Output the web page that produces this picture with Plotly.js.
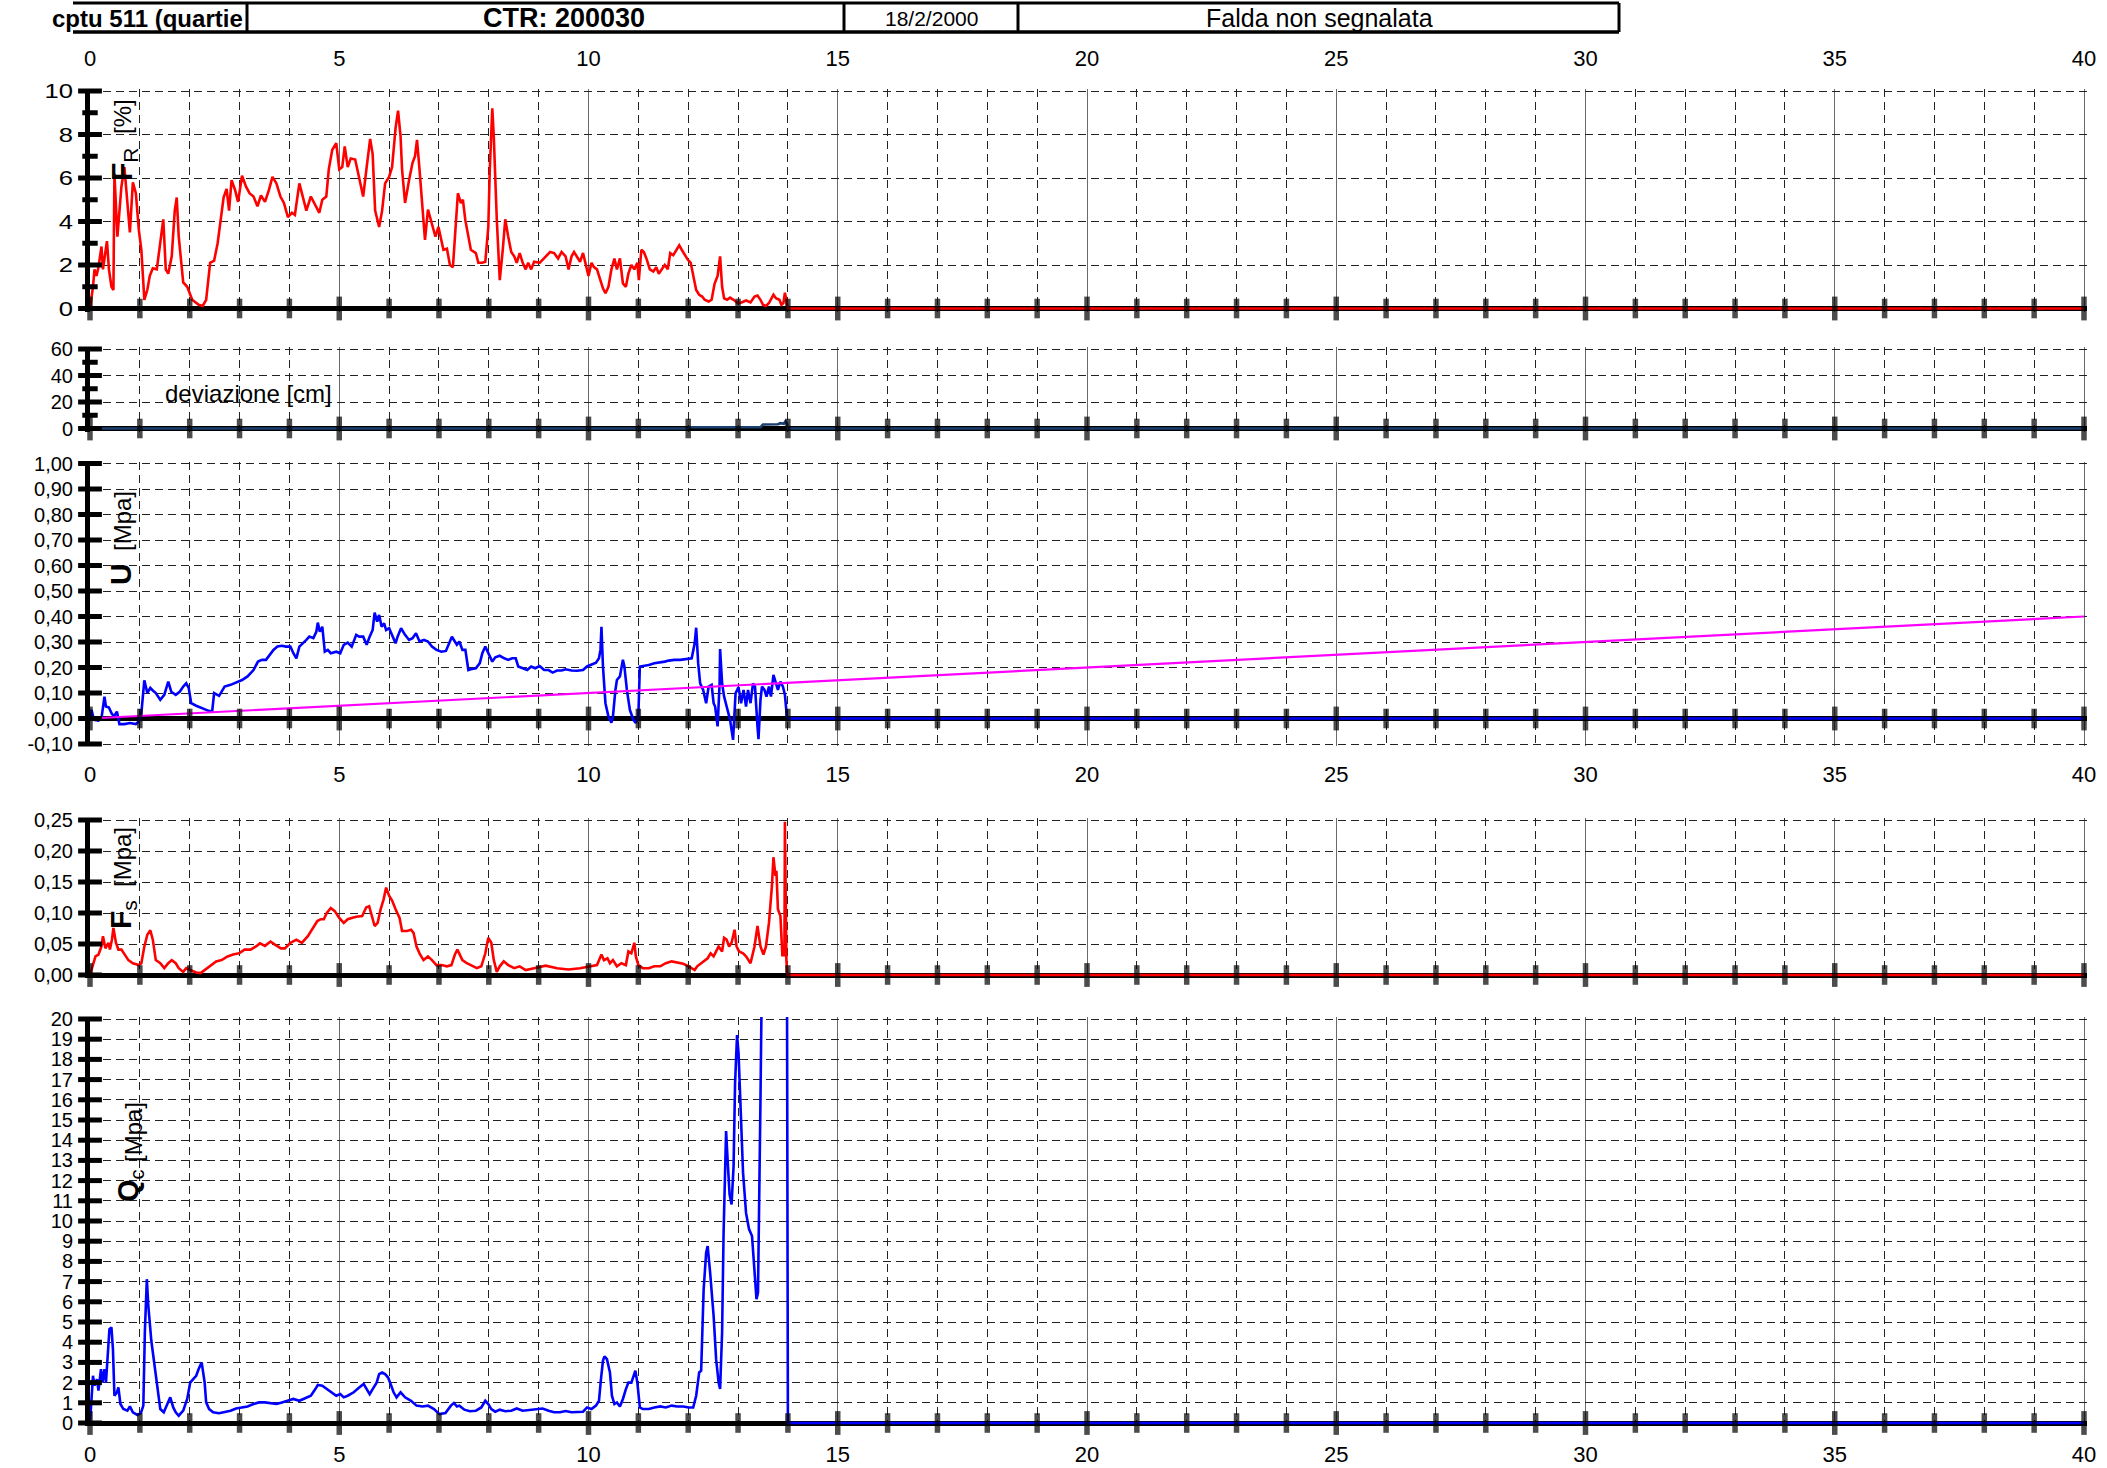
<!DOCTYPE html>
<html><head><meta charset="utf-8">
<script src="https://cdn.plot.ly/plotly-3.0.1.min.js"></script>
<style>html,body{margin:0;padding:0;background:#fff}#chart{width:2107px;height:1468px}</style>
</head><body><div id="chart"></div>
<script>
// ---------------- DATA ----------------
const headerTexts = ["cptu 511 (quartie", "CTR: 200030", "18/2/2000", "Falda non segnalata"];
const xTickVals = [0,5,10,15,20,25,30,35,40];
const xTickText = ["0","5","10","15","20","25","30","35","40"];

const frTickVals = [0,2,4,6,8,10];
const frTickText = ["0","2","4","6","8","10"];
const frMinor = [1,3,5,7,9];
const devTickVals = [0,20,40,60];
const devTickText = ["0","20","40","60"];
const devMinor = [10,30,50];
const uTickVals = [-0.1,0,0.1,0.2,0.3,0.4,0.5,0.6,0.7,0.8,0.9,1.0];
const uTickText = ["-0,10","0,00","0,10","0,20","0,30","0,40","0,50","0,60","0,70","0,80","0,90","1,00"];
const fsTickVals = [0,0.05,0.1,0.15,0.2,0.25];
const fsTickText = ["0,00","0,05","0,10","0,15","0,20","0,25"];
const qcTickVals = [0,1,2,3,4,5,6,7,8,9,10,11,12,13,14,15,16,17,18,19,20];
const qcTickText = qcTickVals.map(String);

// F_R [%] vs depth [m]
const frData = [[0,0],[0.06,1.0],[0.09,1.8],[0.13,1.5],[0.17,1.9],[0.23,2.85],[0.26,1.8],[0.31,2.7],[0.34,3.1],[0.38,1.8],[0.43,1.0],[0.47,0.85],[0.49,6.2],[0.55,3.3],[0.63,5.6],[0.69,6.5],[0.75,4.8],[0.8,3.5],[0.86,5.8],[0.92,5.3],[0.98,3.6],[1.03,2.7],[1.09,0.4],[1.15,0.86],[1.2,1.5],[1.26,1.85],[1.34,1.8],[1.41,3.0],[1.47,4.1],[1.52,1.8],[1.57,1.6],[1.64,2.4],[1.7,4.5],[1.74,5.1],[1.78,3.3],[1.87,1.2],[1.95,1.0],[2.05,0.4],[2.18,0.17],[2.26,0.12],[2.33,0.4],[2.41,2.1],[2.49,2.2],[2.56,3.0],[2.62,4.2],[2.68,5.1],[2.74,5.5],[2.79,4.5],[2.84,5.9],[2.91,5.45],[2.97,4.9],[3.05,6.1],[3.13,5.6],[3.2,5.3],[3.28,5.15],[3.36,4.7],[3.43,5.2],[3.51,4.9],[3.59,5.45],[3.66,6.05],[3.74,5.75],[3.82,5.15],[3.89,4.85],[3.97,4.2],[4.05,4.4],[4.11,4.3],[4.2,5.75],[4.28,5.0],[4.34,4.5],[4.43,5.15],[4.5,4.85],[4.6,4.4],[4.66,5.0],[4.74,5.15],[4.79,6.4],[4.86,7.3],[4.94,7.6],[5.0,6.4],[5.06,6.5],[5.11,7.45],[5.17,6.5],[5.23,6.9],[5.32,6.85],[5.4,6.05],[5.48,5.15],[5.55,6.5],[5.62,7.8],[5.67,7.1],[5.72,4.5],[5.8,3.75],[5.86,4.5],[5.92,5.75],[6.0,6.05],[6.06,6.5],[6.13,8.3],[6.18,9.1],[6.23,7.9],[6.26,6.4],[6.32,4.85],[6.4,5.9],[6.47,6.7],[6.52,7.0],[6.56,7.75],[6.61,6.4],[6.67,4.5],[6.72,3.15],[6.78,4.55],[6.86,3.9],[6.93,3.3],[6.99,3.75],[7.05,3.15],[7.09,2.7],[7.16,2.75],[7.22,2.0],[7.28,1.9],[7.33,3.6],[7.38,5.3],[7.44,4.85],[7.48,5.0],[7.53,4.05],[7.59,3.3],[7.64,2.7],[7.74,2.55],[7.79,2.1],[7.87,2.1],[7.93,2.15],[7.99,3.75],[8.02,6.4],[8.07,9.2],[8.1,7.9],[8.16,4.1],[8.22,1.3],[8.28,2.7],[8.33,4.1],[8.39,3.3],[8.45,2.6],[8.51,2.4],[8.56,2.1],[8.62,2.55],[8.68,2.1],[8.74,1.8],[8.79,2.1],[8.85,1.8],[8.91,2.15],[9.02,2.1],[9.14,2.4],[9.23,2.6],[9.31,2.55],[9.39,2.3],[9.46,2.6],[9.54,2.4],[9.6,1.8],[9.66,2.4],[9.71,2.6],[9.77,2.4],[9.83,2.15],[9.89,2.55],[9.94,2.1],[10.0,1.5],[10.06,2.1],[10.11,1.9],[10.17,1.8],[10.23,1.3],[10.29,0.93],[10.34,0.7],[10.4,1.0],[10.46,1.8],[10.52,2.3],[10.57,1.8],[10.63,2.3],[10.69,1.15],[10.75,1.0],[10.8,1.6],[10.86,2.0],[10.92,1.8],[10.98,2.1],[11.01,1.3],[11.06,2.7],[11.11,2.6],[11.17,2.25],[11.23,1.8],[11.3,1.7],[11.36,1.9],[11.41,1.6],[11.47,1.8],[11.53,2.0],[11.59,1.8],[11.64,2.55],[11.7,2.45],[11.76,2.7],[11.82,2.9],[11.87,2.7],[11.93,2.45],[11.99,2.25],[12.05,2.1],[12.1,1.5],[12.16,0.85],[12.22,0.63],[12.28,0.55],[12.33,0.4],[12.41,0.32],[12.47,0.4],[12.53,1.15],[12.59,1.5],[12.64,2.4],[12.68,1.0],[12.72,0.47],[12.78,0.4],[12.84,0.5],[12.91,0.4],[12.99,0.25],[13.07,0.28],[13.16,0.37],[13.25,0.28],[13.33,0.55],[13.39,0.6],[13.45,0.4],[13.5,0.17],[13.56,0.12],[13.62,0.25],[13.71,0.63],[13.76,0.47],[13.83,0.4],[13.87,0.17],[13.91,0.25],[13.94,0.73],[13.97,0.25],[14.0,0],[40,0]];

// deviazione [cm]
const devData = [[0,0],[12.0,0],[12.02,1.0],[13.45,1.0],[13.5,3.0],[13.8,3.2],[13.85,4.0],[13.92,3.6],[13.95,5.5],[13.98,4.0],[14.0,0],[40,0]];

// U [MPa]
const uData = [[0,0],[0.03,0.034],[0.08,-0.005],[0.17,-0.008],[0.23,0.001],[0.29,0.086],[0.32,0.047],[0.38,0.043],[0.43,0.021],[0.48,0.008],[0.54,0.027],[0.59,-0.022],[0.69,-0.022],[0.8,-0.018],[0.92,-0.022],[0.98,-0.012],[1.03,0.021],[1.09,0.15],[1.15,0.1],[1.21,0.12],[1.26,0.11],[1.32,0.1],[1.41,0.073],[1.49,0.093],[1.57,0.145],[1.63,0.105],[1.72,0.093],[1.8,0.105],[1.87,0.125],[1.93,0.138],[1.98,0.12],[2.03,0.06],[2.13,0.05],[2.24,0.04],[2.32,0.034],[2.38,0.03],[2.45,0.027],[2.49,0.1],[2.59,0.089],[2.7,0.125],[2.82,0.132],[2.93,0.141],[3.05,0.151],[3.16,0.165],[3.28,0.19],[3.37,0.223],[3.45,0.23],[3.53,0.23],[3.6,0.249],[3.68,0.269],[3.76,0.282],[3.85,0.285],[3.93,0.282],[4.02,0.282],[4.08,0.256],[4.14,0.236],[4.2,0.282],[4.28,0.295],[4.34,0.308],[4.4,0.321],[4.48,0.315],[4.54,0.34],[4.57,0.376],[4.61,0.34],[4.66,0.36],[4.71,0.262],[4.77,0.269],[4.83,0.256],[4.94,0.262],[5.02,0.256],[5.09,0.289],[5.17,0.298],[5.25,0.282],[5.34,0.328],[5.4,0.321],[5.48,0.321],[5.55,0.289],[5.61,0.321],[5.67,0.347],[5.71,0.415],[5.76,0.38],[5.8,0.406],[5.85,0.36],[5.9,0.373],[5.94,0.347],[6.0,0.354],[6.06,0.328],[6.13,0.295],[6.17,0.321],[6.24,0.354],[6.32,0.328],[6.4,0.308],[6.47,0.315],[6.54,0.334],[6.61,0.302],[6.7,0.308],[6.78,0.302],[6.86,0.282],[6.95,0.269],[7.05,0.262],[7.14,0.265],[7.21,0.295],[7.26,0.321],[7.3,0.308],[7.36,0.289],[7.41,0.302],[7.47,0.269],[7.53,0.269],[7.59,0.19],[7.64,0.193],[7.74,0.197],[7.82,0.217],[7.87,0.256],[7.93,0.282],[7.99,0.256],[8.07,0.223],[8.13,0.24],[8.22,0.246],[8.31,0.236],[8.39,0.23],[8.47,0.236],[8.54,0.236],[8.59,0.204],[8.68,0.197],[8.77,0.19],[8.85,0.204],[8.93,0.197],[9.02,0.206],[9.11,0.19],[9.2,0.19],[9.28,0.18],[9.37,0.188],[9.46,0.188],[9.54,0.193],[9.66,0.188],[9.77,0.187],[9.89,0.19],[9.97,0.204],[10.06,0.21],[10.15,0.219],[10.21,0.236],[10.24,0.269],[10.26,0.36],[10.29,0.204],[10.34,0.06],[10.4,0.008],[10.46,-0.016],[10.49,0.008],[10.54,0.112],[10.57,0.151],[10.63,0.165],[10.69,0.23],[10.72,0.204],[10.77,0.112],[10.83,0.034],[10.9,-0.005],[10.95,-0.018],[11.0,0.008],[11.03,0.204],[11.09,0.206],[11.21,0.21],[11.32,0.217],[11.44,0.219],[11.53,0.223],[11.61,0.227],[11.72,0.23],[11.84,0.23],[11.95,0.232],[12.07,0.236],[12.13,0.295],[12.16,0.356],[12.2,0.217],[12.24,0.138],[12.3,0.112],[12.36,0.06],[12.41,0.125],[12.47,0.132],[12.51,0.06],[12.54,0.047],[12.59,-0.031],[12.63,0.138],[12.64,0.272],[12.68,0.138],[12.72,0.086],[12.79,0.034],[12.84,-0.005],[12.9,-0.084],[12.95,0.099],[13.01,0.123],[13.06,0.06],[13.11,0.112],[13.16,0.047],[13.2,0.112],[13.25,0.06],[13.3,0.138],[13.34,0.125],[13.39,-0.031],[13.41,-0.081],[13.45,0.073],[13.48,0.125],[13.53,0.112],[13.57,0.086],[13.62,0.125],[13.66,0.086],[13.71,0.171],[13.76,0.138],[13.8,0.112],[13.85,0.145],[13.9,0.125],[13.94,0.093],[13.98,0.008],[14.01,0],[40,0]];

// hydrostatic pressure line [MPa]
const uHydroData = [[0,0],[40,0.40]];

// F_s [MPa]
const fsData = [[0,0],[0.06,0.019],[0.11,0.03],[0.17,0.033],[0.23,0.046],[0.26,0.0625],[0.31,0.043],[0.37,0.052],[0.4,0.041],[0.44,0.057],[0.47,0.076],[0.52,0.052],[0.57,0.041],[0.63,0.041],[0.69,0.033],[0.77,0.024],[0.86,0.019],[0.98,0.016],[1.03,0.019],[1.09,0.046],[1.15,0.065],[1.21,0.072],[1.26,0.057],[1.32,0.024],[1.41,0.019],[1.49,0.011],[1.57,0.019],[1.64,0.024],[1.72,0.019],[1.78,0.011],[1.87,0.005],[1.93,0.011],[2.01,0.008],[2.13,0.004],[2.22,0.003],[2.3,0.008],[2.41,0.014],[2.53,0.022],[2.64,0.024],[2.76,0.03],[2.87,0.033],[2.99,0.035],[3.1,0.041],[3.22,0.041],[3.33,0.046],[3.41,0.051],[3.51,0.047],[3.62,0.054],[3.71,0.049],[3.83,0.043],[3.91,0.043],[4.02,0.052],[4.14,0.057],[4.25,0.052],[4.37,0.0625],[4.48,0.076],[4.56,0.087],[4.63,0.09],[4.69,0.09],[4.75,0.1],[4.83,0.108],[4.91,0.103],[5.0,0.092],[5.09,0.084],[5.17,0.09],[5.25,0.092],[5.34,0.094],[5.46,0.095],[5.54,0.109],[5.6,0.111],[5.66,0.095],[5.71,0.079],[5.77,0.084],[5.83,0.106],[5.89,0.122],[5.94,0.141],[6.0,0.128],[6.06,0.12],[6.13,0.106],[6.21,0.092],[6.26,0.071],[6.36,0.071],[6.44,0.073],[6.49,0.068],[6.55,0.046],[6.61,0.035],[6.69,0.024],[6.78,0.03],[6.86,0.024],[6.95,0.016],[7.05,0.016],[7.16,0.014],[7.25,0.016],[7.32,0.033],[7.37,0.041],[7.41,0.035],[7.47,0.024],[7.56,0.019],[7.64,0.016],[7.76,0.011],[7.85,0.014],[7.93,0.035],[7.99,0.06],[8.05,0.052],[8.1,0.024],[8.16,0.005],[8.22,0.014],[8.3,0.022],[8.39,0.016],[8.51,0.011],[8.62,0.014],[8.74,0.008],[8.91,0.011],[9.14,0.015],[9.37,0.011],[9.6,0.009],[9.83,0.011],[10.06,0.014],[10.17,0.016],[10.26,0.033],[10.31,0.024],[10.38,0.027],[10.43,0.019],[10.49,0.024],[10.57,0.014],[10.66,0.019],[10.75,0.016],[10.8,0.038],[10.86,0.035],[10.92,0.052],[10.95,0.03],[11.0,0.016],[11.09,0.011],[11.21,0.011],[11.32,0.014],[11.44,0.014],[11.55,0.019],[11.67,0.022],[11.78,0.02],[11.9,0.018],[12.01,0.014],[12.13,0.008],[12.18,0.014],[12.26,0.019],[12.33,0.024],[12.39,0.027],[12.45,0.035],[12.51,0.03],[12.56,0.038],[12.61,0.046],[12.68,0.038],[12.72,0.06],[12.77,0.057],[12.82,0.046],[12.87,0.052],[12.93,0.073],[12.97,0.046],[13.02,0.038],[13.1,0.035],[13.16,0.03],[13.25,0.019],[13.33,0.046],[13.39,0.079],[13.45,0.046],[13.51,0.033],[13.56,0.046],[13.62,0.084],[13.68,0.144],[13.71,0.19],[13.75,0.16],[13.77,0.168],[13.8,0.106],[13.85,0.095],[13.89,0.03],[13.91,0.041],[13.93,0.03],[13.94,0.247],[13.97,0.024],[13.99,0],[40,0]];

// Q_c [MPa]
const qcData = [[0,0],[0.03,1.0],[0.06,2.34],[0.09,1.85],[0.14,2.17],[0.17,1.6],[0.22,2.67],[0.25,2.0],[0.29,2.67],[0.32,2.0],[0.36,3.33],[0.39,4.65],[0.43,4.73],[0.46,3.66],[0.49,1.35],[0.54,1.52],[0.57,1.76],[0.61,0.94],[0.67,0.69],[0.75,0.61],[0.8,0.82],[0.86,0.53],[0.95,0.4],[1.02,0.49],[1.07,0.86],[1.1,4.48],[1.14,7.12],[1.17,5.8],[1.23,4.07],[1.3,2.83],[1.36,1.52],[1.41,0.69],[1.48,0.53],[1.55,0.94],[1.61,1.27],[1.67,0.77],[1.72,0.53],[1.78,0.36],[1.87,0.61],[1.95,1.19],[2.01,2.0],[2.07,2.17],[2.13,2.34],[2.18,2.67],[2.24,3.0],[2.3,2.0],[2.33,1.02],[2.39,0.69],[2.47,0.53],[2.59,0.48],[2.7,0.53],[2.82,0.61],[2.93,0.72],[3.05,0.77],[3.16,0.82],[3.28,0.94],[3.39,1.02],[3.51,1.02],[3.62,0.99],[3.74,0.94],[3.85,1.02],[3.97,1.1],[4.08,1.19],[4.2,1.1],[4.31,1.22],[4.43,1.35],[4.52,1.68],[4.57,1.88],[4.66,1.85],[4.75,1.68],[4.84,1.52],[4.94,1.35],[5.02,1.43],[5.09,1.27],[5.17,1.35],[5.29,1.52],[5.4,1.76],[5.49,1.93],[5.55,1.68],[5.61,1.43],[5.67,1.68],[5.75,2.0],[5.8,2.42],[5.86,2.5],[5.92,2.42],[5.98,2.25],[6.03,1.93],[6.09,1.52],[6.15,1.27],[6.23,1.52],[6.32,1.27],[6.44,1.1],[6.55,0.86],[6.67,0.82],[6.78,0.86],[6.9,0.69],[7.01,0.44],[7.13,0.49],[7.24,0.86],[7.3,0.99],[7.36,0.82],[7.41,0.86],[7.51,0.66],[7.62,0.58],[7.74,0.61],[7.85,0.77],[7.93,1.1],[7.99,0.94],[8.05,0.69],[8.13,0.56],[8.22,0.66],[8.33,0.58],[8.45,0.61],[8.56,0.72],[8.68,0.61],[8.79,0.64],[8.97,0.66],[9.08,0.72],[9.2,0.61],[9.31,0.53],[9.43,0.53],[9.54,0.59],[9.66,0.53],[9.77,0.53],[9.89,0.56],[9.97,0.77],[10.06,0.69],[10.15,0.86],[10.21,1.1],[10.25,2.17],[10.29,3.08],[10.32,3.3],[10.37,3.16],[10.43,2.5],[10.47,1.35],[10.52,0.94],[10.57,1.02],[10.63,0.82],[10.69,1.19],[10.75,1.68],[10.8,2.0],[10.86,2.0],[10.91,2.42],[10.94,2.59],[10.98,2.0],[11.03,0.77],[11.09,0.69],[11.21,0.69],[11.32,0.77],[11.44,0.82],[11.55,0.77],[11.67,0.86],[11.78,0.82],[11.9,0.82],[12.01,0.77],[12.1,0.77],[12.16,1.35],[12.22,2.5],[12.26,2.59],[12.31,6.62],[12.36,8.43],[12.39,8.76],[12.44,7.45],[12.51,5.3],[12.56,3.16],[12.61,2.0],[12.64,1.68],[12.68,4.48],[12.71,9.43],[12.76,14.45],[12.79,13.05],[12.83,11.32],[12.87,10.82],[12.91,12.7],[12.94,16.8],[12.98,19.2],[13.01,18.3],[13.05,16.0],[13.1,12.4],[13.16,10.4],[13.22,9.6],[13.28,9.26],[13.33,7.45],[13.37,6.13],[13.4,6.45],[13.43,11.07],[13.45,16.0],[13.47,20.5],[13.5,24],[13.6,26],[13.9,26],[13.98,24],[14.0,0],[40,0]];

// ---------------- LAYOUT HELPERS ----------------
const W = 2107, H = 1468;
const FONT = 'Liberation Sans, Arial, Helvetica, sans-serif';
const X0 = 90, X1 = 2084, xMax = 40;
const xUnit = (X1 - X0) / xMax;
const xPadPx = 3;
const xRange = [0, xMax + xPadPx / xUnit];
const xDomain = [X0 / W, (X1 + xPadPx) / W];
const YTICKFONT = {family: FONT, size: 20, color: '#000'};
const XTICKFONT = {family: FONT, size: 22, color: '#000'};
const YLABEL_STRETCH = 1.28;

function panel(top, bottom, lo, hi, padTop, padBot) {
  const upp = (hi - lo) / (bottom - top);
  return {domain: [1 - (bottom + padBot) / H, 1 - (top - padTop) / H],
          range: [lo - padBot * upp, hi + padTop * upp]};
}
const pFR  = panel(91, 308.5, 0, 10, 2, 3);
const pDev = panel(349, 428.5, 0, 60, 2, 3);
const pU   = panel(463.5, 744, -0.1, 1.0, 2, 2);
const pFs  = panel(820, 975, 0, 0.25, 2, 3);
const pQc  = panel(1019, 1423, 0, 20, 2, 3);

function yAxis(p, anchor, vals, text) {
  return {domain: p.domain, range: p.range, anchor: anchor, fixedrange: true,
    tickmode: 'array', tickvals: vals, ticktext: text, ticks: '',
    tickfont: YTICKFONT, ticklabelstandoff: 8,
    showline: true, linecolor: '#000', linewidth: 5,
    showgrid: true, gridcolor: '#222', gridwidth: 1, griddash: '8px,5px',
    zeroline: true, zerolinecolor: '#000', zerolinewidth: 5};
}
function xAxis(anchor, showLabels, side, standoff) {
  return {domain: xDomain, range: xRange, anchor: anchor, side: side, fixedrange: true,
    tickmode: 'array', tickvals: xTickVals, ticktext: xTickText, ticks: '',
    showticklabels: showLabels, tickfont: XTICKFONT, ticklabelstandoff: standoff,
    showline: false, zeroline: false,
    showgrid: true, gridcolor: '#6a6a6a', gridwidth: 1,
    minor: {tickmode: 'linear', tick0: 0, dtick: 1, ticks: '', showgrid: true,
            gridcolor: '#222', gridwidth: 1, griddash: '8px,5px'}};
}

function line(data, xa, ya, color, width) {
  return {x: data.map(d => d[0]), y: data.map(d => d[1]), xaxis: xa, yaxis: ya,
    type: 'scatter', mode: 'lines', line: {color: color, width: width},
    hoverinfo: 'skip', showlegend: false};
}
const xTickAll = [];
for (let i = 0; i <= xMax; i++) xTickAll.push(i);
function dots(xa, ya, yMajor, yMinor) {
  const base = {type: 'scatter', mode: 'markers', xaxis: xa, yaxis: ya,
    cliponaxis: false, hoverinfo: 'skip', showlegend: false};
  const out = [
    Object.assign({}, base, {x: xTickAll, y: xTickAll.map(() => 0),
      marker: {symbol: 'line-ns-open', color: '#000',
        size: xTickAll.map(v => v % 5 === 0 ? 17 : 14), line: {width: 5.5, color: '#000'}}}),
    Object.assign({}, base, {x: yMajor.map(() => 0), y: yMajor,
      marker: {symbol: 'line-ew-open', color: '#000', size: 17, line: {width: 5, color: '#000'}}})
  ];
  if (yMinor.length) out.push(Object.assign({}, base, {x: yMinor.map(() => 0), y: yMinor,
      marker: {symbol: 'line-ew-open', color: '#000', size: 11, line: {width: 5, color: '#000'}}}));
  return out;
}

const RED = '#ff0000', BLUE = '#0000ff', NAVY = '#1b3f6e', PINK = '#ff00ff';
const traces = [].concat(
  [line(frData, 'x', 'y', RED, 2.6)],
  [line(devData, 'x2', 'y2', NAVY, 2.6)],
  [line(uData, 'x3', 'y3', BLUE, 2.6), line(uHydroData, 'x3', 'y3', PINK, 2.2)],
  [line(fsData, 'x4', 'y4', RED, 2.6)],
  [line(qcData, 'x5', 'y5', BLUE, 2.6)],
  dots('x', 'y', frTickVals, frMinor),
  dots('x2', 'y2', devTickVals, devMinor),
  dots('x3', 'y3', uTickVals, []),
  dots('x4', 'y4', fsTickVals, []),
  dots('x5', 'y5', qcTickVals, [])
);

// header shapes
const px = v => v / W, py = v => 1 - v / H;
const hdr = {left: 73, right: 1619, top: 3, bottom: 32, dividers: [247, 844, 1018, 1619]};
const shapes = [
  {type: 'line', xref: 'paper', yref: 'paper', x0: px(hdr.left), x1: px(hdr.right), y0: py(hdr.top), y1: py(hdr.top), line: {color: '#000', width: 3}},
  {type: 'line', xref: 'paper', yref: 'paper', x0: px(hdr.left), x1: px(hdr.right), y0: py(hdr.bottom), y1: py(hdr.bottom), line: {color: '#000', width: 3.5}}
].concat(hdr.dividers.map(d => ({type: 'line', xref: 'paper', yref: 'paper', x0: px(d), x1: px(d),
  y0: py(hdr.top), y1: py(hdr.bottom), line: {color: '#000', width: 3}})));

function ann(text, x, y, size, opts) {
  return Object.assign({text: text, xref: 'paper', yref: 'paper', x: px(x), y: py(y),
    showarrow: false, xanchor: 'center', yanchor: 'middle',
    font: {family: FONT, size: size, color: '#000'}}, opts || {});
}
const ROT = {textangle: -90};
const annotations = [
  ann('<b>' + headerTexts[0] + '</b>', 50, 18, 24, {xanchor: 'left'}),
  ann('<b>' + headerTexts[1] + '</b>', 564, 18, 27),
  ann(headerTexts[2], 931, 18, 21),
  ann(headerTexts[3], 1319, 18, 25),
  ann('<b>F</b><sub>R</sub>', 124, 164, 30, ROT),
  ann('[%]', 123, 117, 24, ROT),
  ann('deviazione [cm]', 248, 393, 24),
  ann('<b>U</b>', 121, 574, 30, ROT),
  ann('[Mpa]', 122, 521, 24, ROT),
  ann('<b>F</b><sub>s</sub>', 123, 915, 30, ROT),
  ann('[Mpa]', 122, 857, 24, ROT),
  ann('<b>Q</b><sub>c</sub>', 130, 1186, 29, ROT),
  ann('[Mpa]', 133, 1132, 24, ROT)
];

const layout = {
  width: W, height: H, margin: {l: 0, r: 0, t: 0, b: 0},
  paper_bgcolor: '#fff', plot_bgcolor: 'rgba(0,0,0,0)', showlegend: false,
  font: {family: FONT, color: '#000'},
  xaxis: xAxis('y', true, 'top', 18),
  xaxis2: xAxis('y2', false, 'bottom', 14),
  xaxis3: xAxis('y3', true, 'bottom', 13),
  xaxis4: xAxis('y4', false, 'bottom', 14),
  xaxis5: xAxis('y5', true, 'bottom', 13),
  yaxis: yAxis(pFR, 'x', frTickVals, frTickText),
  yaxis2: yAxis(pDev, 'x2', devTickVals, devTickText),
  yaxis3: yAxis(pU, 'x3', uTickVals, uTickText),
  yaxis4: yAxis(pFs, 'x4', fsTickVals, fsTickText),
  yaxis5: yAxis(pQc, 'x5', qcTickVals, qcTickText),
  shapes: shapes, annotations: annotations
};
Plotly.newPlot('chart', traces, layout, {staticPlot: true, displayModeBar: false}).then(function (gd) {
  // the reference's y tick labels are horizontally widened; stretch them about their right edge
  gd.querySelectorAll('g.ytick text').forEach(function (t) {
    const xr = parseFloat(t.getAttribute('x')) || 0;
    const tr = t.getAttribute('transform') || '';
    t.setAttribute('transform', tr + ' translate(' + xr + ',0) scale(' + YLABEL_STRETCH + ',1) translate(' + (-xr) + ',0)');
  });
});
</script></body></html>
